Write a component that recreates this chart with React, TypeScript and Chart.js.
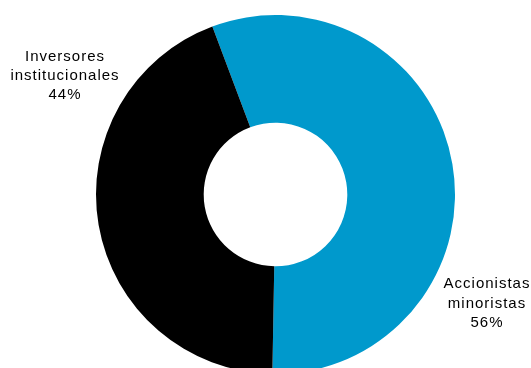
import React, { useEffect, useRef } from "react";
import { Chart, registerables } from "chart.js";

Chart.register(...registerables);

const categories = ["Accionistas minoristas", "Inversores institucionales"];
const values = [56, 44];
const labelLines = [
  ["Accionistas", "minoristas", "56%"],
  ["Inversores", "institucionales", "44%"],
];
const sliceColors = ["#0099CC", "#000000"];

// label placement offsets relative to the doughnut centre (style only)
const labelOffsets = [
  { dx: 211, dy: [93.5, 113.5, 132.5] },
  { dx: -211, dy: [-134, -114.5, -95.5] },
];

const labelPlugin = {
  id: "outerLabels",
  afterDraw(chart: any) {
    const meta = chart.getDatasetMeta(0);
    if (!meta || !meta.data.length) return;
    const arc = meta.data[0];
    const cx = arc.x;
    const cy = arc.y;
    const ctx = chart.ctx;
    ctx.save();
    ctx.font = "15px 'Liberation Sans', Arial, sans-serif";
    (ctx as any).letterSpacing = "1px";
    ctx.fillStyle = "#000000";
    ctx.textAlign = "center";
    ctx.textBaseline = "alphabetic";
    labelLines.forEach((lines, i) => {
      const off = labelOffsets[i];
      lines.forEach((line, j) => {
        ctx.fillText(line, cx + off.dx + 0.5, cy + off.dy[j]);
      });
    });
    ctx.restore();
  },
};

export default function App() {
  const canvasRef = useRef<HTMLCanvasElement | null>(null);

  useEffect(() => {
    if (!canvasRef.current) return;
    const chart = new Chart(canvasRef.current, {
      type: "doughnut",
      data: {
        labels: categories,
        datasets: [
          {
            data: values,
            backgroundColor: sliceColors,
            borderWidth: 0,
            hoverOffset: 0,
          },
        ],
      },
      options: {
        responsive: false,
        animation: false,
        devicePixelRatio: 1,
        events: [],
        cutout: "40%",
        rotation: -20.6,
        layout: { padding: { left: 96, right: 76, top: 15, bottom: 15 } },
        plugins: {
          legend: { display: false },
          tooltip: { enabled: false },
        },
      },
      plugins: [labelPlugin],
    });
    return () => chart.destroy();
  }, []);

  return (
    <div
      style={{
        position: "fixed",
        left: 0,
        top: 0,
        width: 531,
        height: 389,
        background: "#ffffff",
      }}
    >
      <canvas ref={canvasRef} width={531} height={389} />
    </div>
  );
}
